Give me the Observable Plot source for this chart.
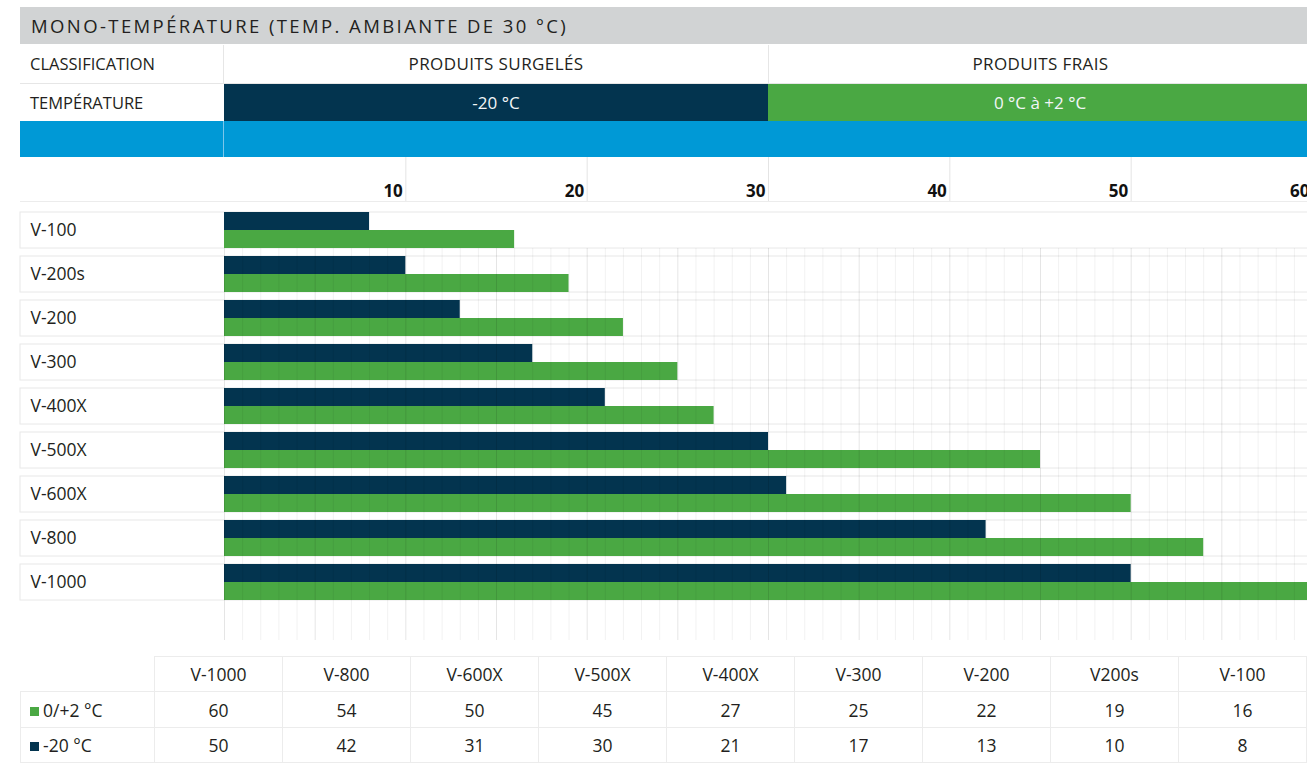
<!DOCTYPE html>
<html><head><meta charset="utf-8">
<script src="https://cdn.jsdelivr.net/npm/d3@7"></script>
<script src="https://cdn.jsdelivr.net/npm/@observablehq/plot@0.6"></script>
<style>
html,body{margin:0;padding:0;background:#fff;overflow:hidden;width:1307px;height:763px;}
body{font-family:"Open Sans",sans-serif;color:#231f20;position:relative;}
.abs{position:absolute;box-sizing:border-box;white-space:nowrap;}
#chart{position:absolute;left:0;top:157px;width:1320px;height:500px;}
#chart svg{max-width:none !important;width:1320px !important;height:500px !important;}
table.vals{position:absolute;left:20px;top:656px;border-collapse:collapse;table-layout:fixed;font-size:17.5px;color:#231f20;}
table.vals td{border:1px solid #ececec;text-align:center;padding:0;}
table.vals td.first{text-align:left;padding-left:9px;}
table.vals td.blank{border:none;}
.sw{display:inline-block;width:9px;height:9px;margin-right:4px;vertical-align:1px;}
</style></head><body>
<div id="header"></div>
<div id="chart"></div>
<div id="table"></div>
<script>
// ---- data ----
const title = "MONO-TEMPÉRATURE (TEMP. AMBIANTE DE 30 °C)";
const rowLabels = ["CLASSIFICATION", "TEMPÉRATURE"];
const classLabels = ["PRODUITS SURGELÉS", "PRODUITS FRAIS"];
const classTemps = ["-20 °C", "0 °C à +2 °C"];
const classFrom = [0, 30];
const classTo = [30, 60];
const models = ["V-100","V-200s","V-200","V-300","V-400X","V-500X","V-600X","V-800","V-1000"];
const frozen = [8,10,13,17,21,30,31,42,50];
const fresh = [16,19,22,25,27,45,50,54,60];
const xTicks = [10,20,30,40,50,60];
const seriesLabels = ["0/+2 °C", "-20 °C"];
const tableHeaders = ["V-1000","V-800","V-600X","V-500X","V-400X","V-300","V-200","V200s","V-100"];
const tableFresh = [60,54,50,45,27,25,22,19,16];
const tableFrozen = [50,42,31,30,21,17,13,10,8];

const NAVY = "#03344f", GREEN = "#4aa843", BLUE = "#0099d6", GRAY = "#d1d3d4";

// ---- chart ----
const rows = models.map((m, i) => ({model: m, frozen: frozen[i], fresh: fresh[i]}));
const gridVals = d3.range(0, 61);
const plot = Plot.plot({
  width: 1320, height: 500,
  marginLeft: 224, marginRight: 8, marginTop: 53, marginBottom: 56,
  x: {domain: [0, 60], axis: null},
  y: {domain: models, axis: null, paddingInner: 0.19, paddingOuter: 0},
  style: {fontFamily: "'Open Sans', sans-serif", color: "#231f20", background: "transparent", overflow: "visible", maxWidth: "none"},
  marks: [
    Plot.cell(models, {y: d => d, fill: "white", stroke: "#e8e8e8", insetLeft: -204, insetRight: -20}),
    Plot.barX(rows, {y: "model", x: "frozen", fill: NAVY, insetBottom: 18}),
    Plot.barX(rows, {y: "model", x: "fresh", fill: GREEN, insetTop: 18}),
    Plot.ruleX(gridVals, {x: d => d, stroke: "#000", strokeOpacity: d => d % 5 === 0 ? 0.1 : 0.055, insetTop: 38, insetBottom: -39}),
    Plot.ruleX(xTicks, {x: d => d, stroke: "#e4e4e4", insetTop: -53, insetBottom: 400}),
    Plot.text(xTicks, {x: d => d, text: d => String(d), frameAnchor: "top", lineAnchor: "bottom", textAnchor: "end", dx: -3, dy: -14, fontSize: 17, fontWeight: "bold", fill: "#111"}),
    Plot.text(models, {y: d => d, text: d => d, frameAnchor: "left", textAnchor: "start", dx: -194, fontSize: 17.5, fill: "#231f20"})
  ]
});
document.getElementById("chart").appendChild(plot);
const xs = plot.scale("x");
const X = v => xs.apply(v);

// ---- header ----
let h = "";
h += `<div class="abs" style="left:20px;top:7px;width:1300px;height:37px;background:${GRAY};padding-left:11px;line-height:37px;font-size:18.5px;letter-spacing:2.4px;">${title}</div>`;
h += `<div class="abs" style="left:20px;top:44px;width:1300px;height:40px;border-bottom:1px solid #e6e6e6;"></div>`;
h += `<div class="abs" style="left:20px;top:45px;width:${X(0)-20}px;height:38px;padding-left:10px;line-height:38px;font-size:16.5px;">${rowLabels[0]}</div>`;
h += `<div class="abs" style="left:20px;top:84px;width:${X(0)-20}px;height:37px;padding-left:10px;line-height:37px;font-size:16.5px;">${rowLabels[1]}</div>`;
h += `<div class="abs" style="left:${X(0)-1}px;top:45px;width:1px;height:38px;background:#e6e6e6;"></div>`;
classLabels.forEach((c, i) => {
  const l = X(classFrom[i]), w = X(classTo[i]) - l;
  h += `<div class="abs" style="left:${l}px;top:45px;width:${w}px;height:38px;line-height:38px;text-align:center;font-size:17px;letter-spacing:0.4px;${i>0?'border-left:1px solid #e6e6e6;':''}">${c}</div>`;
  h += `<div class="abs" style="left:${l}px;top:84px;width:${w}px;height:37px;line-height:37px;text-align:center;font-size:17px;color:#f2f6f8;background:${i===0?NAVY:GREEN};">${classTemps[i]}</div>`;
});
h += `<div class="abs" style="left:20px;top:121px;width:1300px;height:36px;background:${BLUE};"></div>`;
h += `<div class="abs" style="left:${X(0)-1}px;top:121px;width:1px;height:36px;background:#7cc6ea;"></div>`;
h += `<div class="abs" style="left:20px;top:201px;width:1300px;height:1px;background:#ececec;"></div>`;
document.getElementById("header").innerHTML = h;

// ---- table ----
let t = `<table class="vals"><colgroup><col style="width:135px">${tableHeaders.map(() => '<col style="width:129px">').join("")}</colgroup>`;
t += `<tr style="height:35px"><td class="blank"></td>${tableHeaders.map(d => `<td>${d}</td>`).join("")}</tr>`;
t += `<tr style="height:36px"><td class="first"><span class="sw" style="background:${GREEN}"></span>${seriesLabels[0]}</td>${tableFresh.map(d => `<td>${d}</td>`).join("")}</tr>`;
t += `<tr style="height:35px"><td class="first"><span class="sw" style="background:${NAVY}"></span>${seriesLabels[1]}</td>${tableFrozen.map(d => `<td>${d}</td>`).join("")}</tr>`;
t += `</table>`;
document.getElementById("table").innerHTML = t;
</script>
</body></html>
